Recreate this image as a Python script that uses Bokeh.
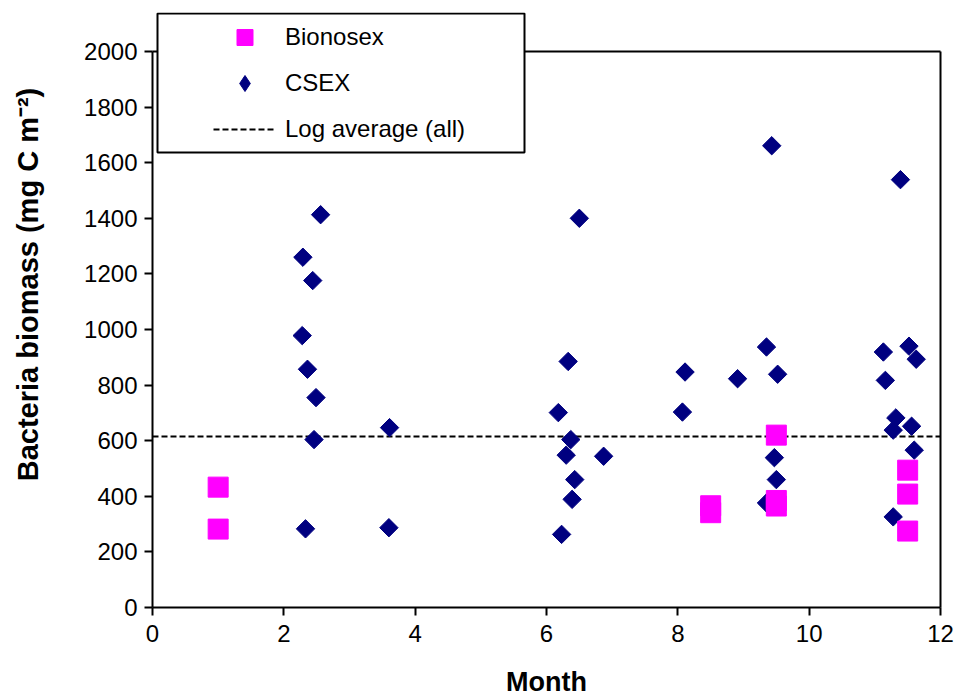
import math

from bokeh.plotting import figure
from bokeh.models import (Legend, LegendItem, BoxAnnotation, Range1d, Label,
                          FixedTicker, LinearAxis)
from bokeh.embed import file_html
from bokeh.resources import INLINE

# Bacteria biomass per sampling month (mg C m-2)
bionosex_month = [1.0, 1.0, 8.5, 8.5, 9.5, 9.5, 9.5, 11.5, 11.5, 11.5]
bionosex_biomass = [433, 282, 366, 341, 620, 385, 365, 494, 408, 275]

csex_month = [2.29, 2.44, 2.28, 2.36, 2.49, 2.46, 2.33, 2.56, 3.61, 3.60,
              6.50, 6.33, 6.18, 6.37, 6.30, 6.87, 6.43, 6.39, 6.23,
              9.43, 9.35, 8.11, 8.91, 9.52, 8.07, 9.47, 9.50, 9.35,
              11.39, 11.13, 11.52, 11.63, 11.16, 11.32, 11.28, 11.56, 11.60, 11.28]
csex_biomass = [1260, 1176, 978, 857, 755, 604, 283, 1413, 647, 287,
                1400, 885, 701, 604, 548, 544, 460, 389, 263,
                1661, 937, 847, 823, 839, 703, 539, 460, 376,
                1539, 919, 940, 893, 817, 682, 638, 652, 566, 326]

# log average over all samples, drawn across the whole year
log_average = 615
month_span = [0, 12]
biomass_span = [0, 2000]

x_ticks = [0, 2, 4, 6, 8, 10, 12]
y_ticks = [0, 200, 400, 600, 800, 1000, 1200, 1400, 1600, 1800, 2000]

FONT = "Liberation Sans"

# Page geometry (px). The frame fills the page below a thin top strip; both
# axes are pinned to the data box (0..12 months, 0..2000 mg C m-2) so the
# titles, tick labels and the legend all live inside the frame.
PAGE_W, PAGE_H = 958, 698
BOX_LEFT, BOX_RIGHT = 152, 940
BOX_TOP, BOX_BOTTOM = 51, 607
FRAME_TOP = 12
FRAME_W = PAGE_W
FRAME_H = PAGE_H - FRAME_TOP

px_per_month = (BOX_RIGHT - BOX_LEFT) / (month_span[1] - month_span[0])
px_per_unit = (BOX_BOTTOM - BOX_TOP) / (biomass_span[1] - biomass_span[0])
x_start = month_span[0] - BOX_LEFT / px_per_month
x_end = month_span[1] + (PAGE_W - BOX_RIGHT) / px_per_month
y_start = biomass_span[0] - (PAGE_H - BOX_BOTTOM) / px_per_unit
y_end = biomass_span[0] + (BOX_BOTTOM - FRAME_TOP) / px_per_unit


def up(py):
    """Screen offset from the frame bottom for a page row py."""
    return PAGE_H - py


p = figure(frame_width=FRAME_W, frame_height=FRAME_H,
           min_border_left=0, min_border_right=0,
           min_border_top=FRAME_TOP, min_border_bottom=0,
           x_range=Range1d(x_start, x_end), y_range=Range1d(y_start, y_end),
           output_backend="svg", toolbar_location=None,
           background_fill_color="white", border_fill_color="white")

p.grid.visible = False
p.outline_line_alpha = 0

for ax in (p.xaxis[0], p.yaxis[0]):
    ax.axis_line_width = 2
    ax.axis_line_color = "black"
    ax.major_tick_line_width = 2
    ax.major_tick_line_color = "black"
    ax.major_tick_out = 8
    ax.major_tick_in = 0
    ax.minor_tick_out = 0
    ax.minor_tick_in = 0
    ax.major_label_text_font = FONT
    ax.major_label_text_font_size = "24px"
    ax.major_label_text_color = "black"

p.xaxis.ticker = FixedTicker(ticks=x_ticks)
p.xaxis.bounds = tuple(month_span)
p.xaxis.fixed_location = biomass_span[0]
p.yaxis.ticker = FixedTicker(ticks=y_ticks)
p.yaxis.bounds = tuple(biomass_span)
p.yaxis.fixed_location = month_span[0]
p.xaxis.major_label_standoff = 9
p.yaxis.major_label_standoff = 7


def edge_axis(bounds, location):
    """A bare axis line used to close the plot box."""
    return LinearAxis(bounds=tuple(bounds), fixed_location=location,
                      ticker=FixedTicker(ticks=[]),
                      axis_line_width=2, axis_line_color="black",
                      major_tick_out=0, major_tick_in=0,
                      minor_tick_out=0, minor_tick_in=0,
                      major_label_text_font_size="0px")


p.add_layout(edge_axis(biomass_span, month_span[1]), "right")
p.add_layout(edge_axis(month_span, biomass_span[1]), "above")

# axis titles
p.add_layout(Label(x=27, y=up(284), x_units="screen", y_units="screen",
                   text="Bacteria biomass (mg C m⁻²)", angle=math.pi / 2,
                   text_align="center", text_baseline="middle",
                   text_font=FONT, text_font_style="bold",
                   text_font_size="29px", text_color="black"))
p.add_layout(Label(x=(BOX_LEFT + BOX_RIGHT) / 2, y=up(681),
                   x_units="screen", y_units="screen", text="Month",
                   text_align="center", text_baseline="middle",
                   text_font=FONT, text_font_style="bold",
                   text_font_size="27px", text_color="black"))

# dashed reference line for the log average
r_line = p.line(month_span, [log_average, log_average],
                line_color="black", line_width=2, line_dash="6 3")

r_csex = p.scatter(csex_month, csex_biomass, marker="square", size=13,
                   angle=math.pi / 4, fill_color="#000080", line_color="#000080")

r_bio = p.scatter(bionosex_month, bionosex_biomass, marker="square", size=20,
                  fill_color="#FF00FF", line_color="#FF00FF")

# legend key for CSEX (legend keys are drawn unrotated)
r_csex_key = p.scatter(csex_month, csex_biomass, marker="diamond", size=13,
                       fill_color="#000080", line_color="#000080", visible=False)

# legend frame
p.add_layout(BoxAnnotation(left=157, right=524, top=up(13), bottom=up(152),
                           left_units="screen", right_units="screen",
                           top_units="screen", bottom_units="screen",
                           fill_color="white", fill_alpha=1.0,
                           line_color="black", line_alpha=1.0, line_width=2))

legend = Legend(items=[LegendItem(label="Bionosex", renderers=[r_bio]),
                       LegendItem(label="CSEX", renderers=[r_csex_key]),
                       LegendItem(label="Log average (all)", renderers=[r_line])],
                location=(213, up(149)), padding=0, margin=0, spacing=6,
                glyph_width=63, glyph_height=40, label_height=40,
                label_standoff=9, label_text_font=FONT,
                label_text_font_size="24px", label_text_color="black",
                border_line_alpha=0, background_fill_alpha=0)
p.add_layout(legend)

open("out.html", "w").write(file_html(p, INLINE))
